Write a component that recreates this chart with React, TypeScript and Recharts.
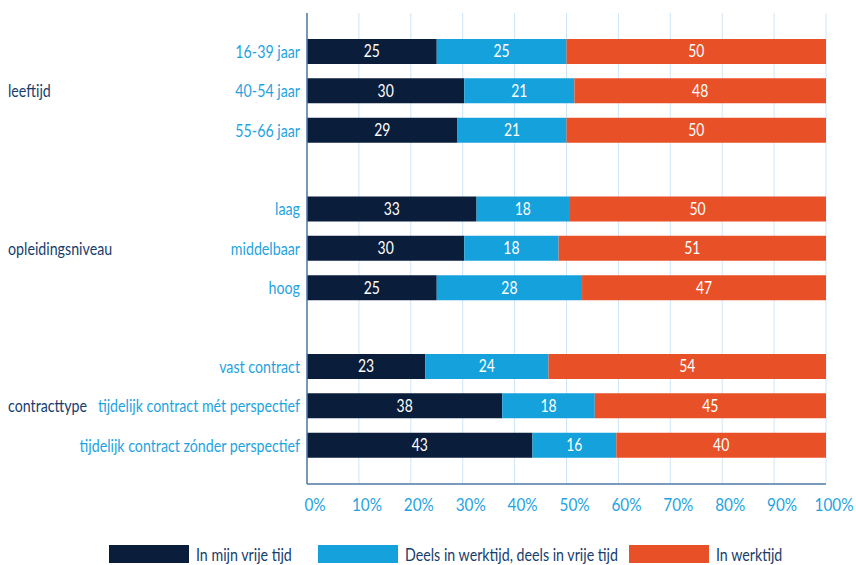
import React from "react";
import { BarChart, Bar, XAxis, YAxis, CartesianGrid, Legend, LabelList } from "recharts";

// rows top to bottom; "" rows are the blank spacers between groups
const categories = [
  "16-39 jaar",
  "40-54 jaar",
  "55-66 jaar",
  "",
  "laag",
  "middelbaar",
  "hoog",
  "",
  "vast contract",
  "tijdelijk contract mét perspectief",
  "tijdelijk contract zónder perspectief",
];
const groupLabels = ["", "leeftijd", "", "", "", "opleidingsniveau", "", "", "", "contracttype", ""];

const vrijeTijd = [25, 30, 29, null, 33, 30, 25, null, 23, 38, 43];
const deels = [25, 21, 21, null, 18, 18, 28, null, 24, 18, 16];
const werktijd = [50, 48, 50, null, 50, 51, 47, null, 54, 45, 40];

const xTicks = [0, 0.1, 0.2, 0.3, 0.4, 0.5, 0.6, 0.7, 0.8, 0.9, 1];

const seriesNames = ["In mijn vrije tijd", "Deels in werktijd, deels in vrije tijd", "In werktijd"];
const colors = ["#0a1e3c", "#14a1dc", "#e85127"];

// no condensed font offline, so Lato squeezed horizontally
const FONT = "Lato, sans-serif";
const SQUEEZE = 0.79;
const LIGHT_BLUE = "#1fa3df";
const NAVY_TEXT = "#173d6c";
const AXIS = "#4f79a5";

const data = categories.map((c, i) => ({
  id: "row" + i,
  label: c,
  group: groupLabels[i],
  a: vrijeTijd[i],
  b: deels[i],
  c: werktijd[i],
}));

function YTick(props: any) {
  const { x, y, payload } = props;
  const row = data.find((d) => d.id === payload.value);
  if (!row) return null;
  return (
    <g>
      {row.group && (
        <text
          transform={`translate(8 ${y}) scale(${SQUEEZE} 1)`}
          dy="0.35em"
          fill={NAVY_TEXT}
          fontSize={18}
          fontFamily={FONT}
        >
          {row.group}
        </text>
      )}
      {row.label && (
        <text
          transform={`translate(${x + 1} ${y}) scale(${SQUEEZE} 1)`}
          dy="0.35em"
          textAnchor="end"
          fill={LIGHT_BLUE}
          fontSize={18}
          fontFamily={FONT}
        >
          {row.label}
        </text>
      )}
    </g>
  );
}

function XTick(props: any) {
  const { x, y, payload } = props;
  return (
    <text
      transform={`translate(${x + 8} ${y}) scale(0.9 1)`}
      dy="0.9em"
      textAnchor="middle"
      fill={LIGHT_BLUE}
      fontSize={17}
      fontFamily={FONT}
    >
      {Math.round(payload.value * 100) + "%"}
    </text>
  );
}

function BarValue(props: any) {
  const { x, y, width, height, value } = props;
  if (value == null) return null;
  return (
    <text
      transform={`translate(${x + width / 2} ${y + height / 2}) scale(0.82 1)`}
      dy="0.35em"
      textAnchor="middle"
      fill="#fff"
      fontSize={17}
      fontFamily={FONT}
    >
      {value}
    </text>
  );
}

const legendLeft = [109, 318, 629];

function LegendContent() {
  return (
    <div style={{ position: "relative", height: 51, width: 856 }}>
      {seriesNames.map((n, i) => (
        <div
          key={n}
          style={{
            position: "absolute",
            left: legendLeft[i],
            top: 31,
            height: 18,
            display: "flex",
            alignItems: "center",
            fontFamily: FONT,
            fontSize: 18,
            lineHeight: "18px",
            color: NAVY_TEXT,
            whiteSpace: "nowrap",
          }}
        >
          <span style={{ display: "inline-block", width: 80, height: 18, background: colors[i], marginRight: 7 }} />
          <span style={{ display: "inline-block", transform: `scaleX(${SQUEEZE})`, transformOrigin: "left center" }}>
            {n}
          </span>
        </div>
      ))}
    </div>
  );
}

export default function App() {
  return (
    <div style={{ position: "absolute", left: 0, top: 0, width: 856, height: 565, background: "#fff" }}>
      <BarChart
        width={856}
        height={565}
        data={data}
        layout="vertical"
        stackOffset="expand"
        margin={{ top: 13, right: 30, left: 0, bottom: 0 }}
        barSize={25}
      >
        <CartesianGrid horizontal={false} stroke="#cfe5f6" />
        <XAxis
          type="number"
          domain={[0, 1]}
          ticks={xTicks}
          axisLine={{ stroke: AXIS, strokeWidth: 1.5 }}
          tickLine={false}
          tickMargin={6}
          height={30}
          tick={<XTick />}
          interval={0}
        />
        <YAxis
          type="category"
          dataKey="id"
          width={307}
          axisLine={{ stroke: AXIS, strokeWidth: 1.5 }}
          tickLine={false}
          padding={{ top: 19, bottom: 19 }}
          tick={<YTick />}
          interval={0}
        />
        <Legend verticalAlign="bottom" height={51} content={<LegendContent />} wrapperStyle={{ left: 0 }} />
        <Bar dataKey="a" name={seriesNames[0]} stackId="s" fill={colors[0]} isAnimationActive={false}>
          <LabelList dataKey="a" content={<BarValue />} />
        </Bar>
        <Bar dataKey="b" name={seriesNames[1]} stackId="s" fill={colors[1]} isAnimationActive={false}>
          <LabelList dataKey="b" content={<BarValue />} />
        </Bar>
        <Bar dataKey="c" name={seriesNames[2]} stackId="s" fill={colors[2]} isAnimationActive={false}>
          <LabelList dataKey="c" content={<BarValue />} />
        </Bar>
      </BarChart>
    </div>
  );
}
